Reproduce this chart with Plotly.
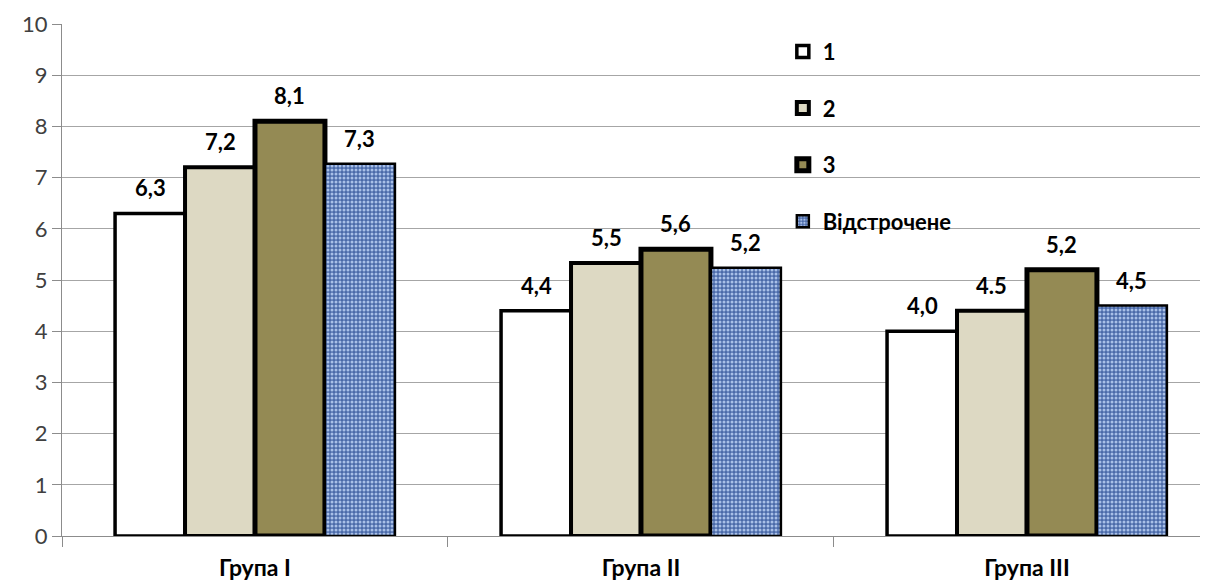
import plotly.graph_objects as go

categories = ["Група I", "Група II", "Група III"]
series_names = ["1", "2", "3", "Відстрочене"]
values_1 = [6.3, 4.4, 4.0]
values_2 = [7.2, 5.33, 4.4]
values_3 = [8.1, 5.6, 5.2]
values_d = [7.27, 5.24, 4.5]
labels_1 = ["6,3", "4,4", "4,0"]
labels_2 = ["7,2", "5,5", "4.5"]
labels_3 = ["8,1", "5,6", "5,2"]
labels_d = ["7,3", "5,2", "4,5"]
y_ticks = list(range(0, 11))

series_values = [values_1, values_2, values_3, values_d]
series_labels = [labels_1, labels_2, labels_3, labels_d]
fills = ["#ffffff", "#ddd9c3", "#948a54", "#4f70b0"]
line_w = [3.5, 4, 5, 2.5]

BARGAP = 0.275
n = len(series_names)
bw = (1 - BARGAP) / n

fig = go.Figure()
for j, (name, vals) in enumerate(zip(series_names, series_values)):
    marker = dict(color=fills[j], line=dict(color="black", width=line_w[j]))
    if j == 3:
        marker["pattern"] = dict(shape=".", fgcolor="#a9c0e8", bgcolor="#4a6aa9",
                                 size=4, solidity=0.45, fillmode="replace")
    fig.add_trace(go.Bar(
        name=name, x=categories, y=vals, marker=marker,
        legendgroup=name, cliponaxis=False,
    ))

annotations = []
for j, labs in enumerate(series_labels):
    off = (j - (n - 1) / 2) * bw
    for i, (lab, v) in enumerate(zip(labs, series_values[j])):
        annotations.append(dict(
            x=i + off, y=v, xref="x", yref="y", text=lab, showarrow=False,
            yanchor="bottom", yshift=10,
            font=dict(family="Lato", size=22, color="black", weight="bold"),
        ))

fig.update_layout(
    width=1200, height=575,
    margin=dict(l=54, r=0, t=16, b=47, autoexpand=False),
    paper_bgcolor="white", plot_bgcolor="white",
    barmode="group", bargap=BARGAP, bargroupgap=0,
    annotations=annotations,
    legend=dict(
        x=0.629, y=0.987, xanchor="left", yanchor="top",
        bgcolor="rgba(0,0,0,0)", tracegroupgap=25,
        font=dict(family="Lato", size=22, color="black", weight="bold"),
        itemwidth=30,
    ),
    xaxis=dict(
        type="category", range=[-0.5, 2.469], automargin=False,
        showline=True, linecolor="#8c8c8c", linewidth=1,
        ticks="outside", tickson="boundaries", ticklen=10, tickcolor="#8c8c8c",
        showgrid=False, ticklabelstandoff=11,
        tickfont=dict(family="Lato", size=23, color="black", weight="bold"),
    ),
    yaxis=dict(
        range=[0, 10], tickvals=y_ticks, automargin=False,
        showline=True, linecolor="#8c8c8c", linewidth=1,
        ticks="outside", ticklen=9, tickcolor="#8c8c8c",
        showgrid=True, gridcolor="#a6a6a6", gridwidth=1,
        zeroline=False,
        tickfont=dict(family="Lato", size=22, color="#404040"),
    ),
)

fig.write_html("out.html")
